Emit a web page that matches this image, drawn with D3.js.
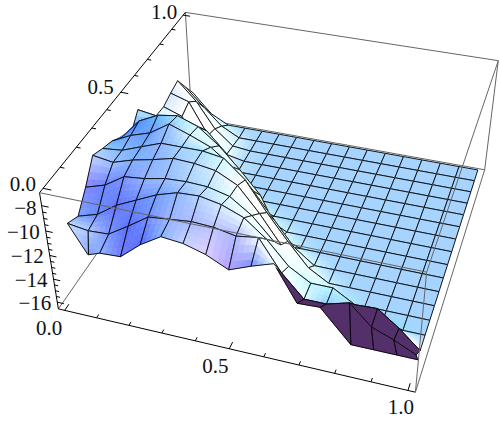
<!DOCTYPE html><html><body style="margin:0;background:#fff"><svg width="500" height="421" style="display:block"></svg>
<script src="https://cdn.jsdelivr.net/npm/d3@7"></script>
<script>
// --- data ---
const xTickLabels=["0.0","0.5","1.0"], yTickLabels=["0.0","0.5","1.0"];
const zTickValues=[-8,-10,-12,-14,-16];
const zFloor=-16.4;
// surface height above the floor, one list per row (front row first), columns left to right; unlisted columns lie on the floor
const row00=[4.75,4.75,5.08,5.17,6.5,7.5,7.33,6.83,6,6.67,7.25,4.5,4.58,2.08,2.08,2.08,2.08];
const row01=[5.67,5.42,5.5,6.5,7.58,7.75,7.92,7.83,7.5,7.75,5.33,3.58,3.58,4.08,2.5,1.83,1];
const row02=[5.17,5.67,6.75,7.5,8.25,8.75,8.83,8.5,7.83,6.5,4.67,3.67,3.67,2.67,2.75,1.5,0];
const row03=[6.5,7,8,8.17,8.5,8.58,8.5,8.08,6.92,5.17,3.33,2.08,1.83];
const row04=[8.08,7.83,8.33,8.67,9.08,9,8.75,7.92,6,3.75,2.08,.83];
const row05=[7.67,7.83,8.42,9,9,9,8.75,7.33,5,2.92,1];
const row06=[7.33,8.08,8.58,9.58,9,8.33,7.08,5.42,3.33,1.25];
const row07=[6.67,8.33,9.08,9.33,8.75,7.5,5.83,4,.67];
const row08=[6,7.08,7.5,7.92,7.5,5.83,3.33,.83];
const row09=[7.17,6.92,6.5,5.83,5,3.33,.42];
const row10=[5.67,4.33,3.33,2.08,.83];
const row11=[4.83,4,2.5,1];
const row12=[4.75,4.17,1.83,.42];
const row13=[5.08,4.58,1.83,.33];
const row14=[5.33,3.75,1.5,.17];
const row15=[3.9,2.33,.83];
const row16=[2.5,.83];
const rows=[row00,row01,row02,row03,row04,row05,row06,row07,row08,row09,row10,row11,row12,row13,row14,row15,row16];
// x position of the front row's points, where the surface edge departs from the regular grid
const frontX=[.088,.09,.125,.1875,.25,.3125,.375,.4375,.5,.5625,.625,.6875,.75,.836,.898,.96,1.015];
// how many front rows show their underside, per column
const undersideRows=[0,0,0,0,0,0,0,0,0,0,1,1,1,2,2,2,0];

const N=16;
const grid=d3.range(N+1).map(i=>i/N);
const zOf=(i,j)=>zFloor+(rows[j][i]||0);
const xOf=(i,j)=>j===0?frontX[i]:grid[i];

// --- scales and camera ---
const sx=d3.scaleLinear().domain([-.02,1.02]).range([0,1]);
const sy=d3.scaleLinear().domain([-.02,1.02]).range([0,1]);
const sz=d3.scaleLinear().domain([-16.6,-7]).range([0,1]);
const cam=[[323.00073,178.98101,-21.82729,58.36968],[51.17341,-163.77943,-130.72635,308.89522],[-.08191,.23806,-.07538,1]];
const dot4=(r,a,b,c)=>r[0]*a+r[1]*b+r[2]*c+r[3];
const proj=(a,b,c)=>{const w=dot4(cam[2],a,b,c);return [dot4(cam[0],a,b,c)/w,dot4(cam[1],a,b,c)/w];};
const depth=(a,b,c)=>dot4(cam[2],a,b,c);
const svg=d3.select("svg");
const line=d3.line();
const GRAY="#666", INK="#000";

function seg(g,p,q,col,w){g.append("line").attr("x1",p[0]).attr("y1",p[1]).attr("x2",q[0]).attr("y2",q[1]).attr("stroke",col).attr("stroke-width",w);}
const b=(X,Y,Z)=>proj(X,Y,Z);

// back box edges
const back=svg.append("g");
[[[0,0,0],[0,1,0]],[[0,1,0],[1,1,0]],[[0,1,0],[0,1,1]],[[1,1,0],[1,1,1]],[[0,1,1],[1,1,1]]].forEach(e=>seg(back,b(...e[0]),b(...e[1]),GRAY,1));

// --- lighting: ambient plus three coloured directional lights in view space ---
const eX=[.893,-.207,.40], eY=[.438,.624,-.650], eZ=[-.116,.755,.646];
const ambient=[.312,.188,.4];
const lights=[[.9,[.707,0,.707],0],[.87,[.577,.577,.577],1],[.8,[0,.707,.707],2]];
const slopeScale=.25;
const vertexColor=d3.range(N+1).map(i=>d3.range(N+1).map(j=>{
  const i0=Math.max(0,i-1),i1=Math.min(N,i+1),j0=Math.max(0,j-1),j1=Math.min(N,j+1);
  const dzx=slopeScale*(sz(zOf(i1,j))-sz(zOf(i0,j)))/(sx(xOf(i1,j))-sx(xOf(i0,j))||1);
  const dzy=slopeScale*(sz(zOf(i,j1))-sz(zOf(i,j0)))/(sy(grid[j1])-sy(grid[j0]));
  let n=[-dzx,-dzy,1];const len=Math.hypot(...n);n=n.map(v=>v/len);
  const v=[0,1,2].map(k=>n[0]*eX[k]+n[1]*eY[k]+n[2]*eZ[k]);
  const c=ambient.slice();
  lights.forEach(([s,l,k])=>{c[k]+=s*Math.max(0,v[0]*l[0]+v[1]*l[1]+v[2]*l[2]);});
  return c.map(q=>Math.min(1,q));
}));
const toCss=c=>d3.rgb(c[0]*255,c[1]*255,c[2]*255).formatHex();
const DARK=[.325,.19,.415];

// --- surface: cells painted far to near ---
const cells=[];
for(let i=0;i<N;i++)for(let j=0;j<N;j++){
  const pts=[[i,j],[i+1,j],[i+1,j+1],[i,j+1]].map(([a,c])=>[sx(xOf(a,c)),sy(grid[c]),sz(zOf(a,c))]);
  cells.push({i,j,pts,d:d3.mean(pts,p=>depth(...p))});
}
cells.sort((a,c)=>d3.descending(a.d,c.d));
const surf=svg.append("g");
const lerp=(a,c,t)=>a.map((v,k)=>v+(c[k]-v)*t);
const MESH=.9;
cells.forEach(cell=>{
  const {i,j,pts}=cell;
  const dark=j<undersideRows[i];
  const cols=[[i,j],[i+1,j],[i+1,j+1],[i,j+1]].map(([a,c])=>vertexColor[a][c]);
  const same=cols.every(c=>c.every((v,k)=>Math.abs(v-cols[0][k])<.004));
  const S=(same||dark)?1:4;
  for(let a=0;a<S;a++)for(let c=0;c<S;c++){
    const bil=(arr,s,t)=>lerp(lerp(arr[0],arr[1],s),lerp(arr[3],arr[2],s),t);
    const poly=[[a,c],[a+1,c],[a+1,c+1],[a,c+1]].map(([s,t])=>proj(...bil(pts,s/S,t/S)));
    const col=toCss(dark?DARK:bil(cols,(a+.5)/S,(c+.5)/S));
    surf.append("path").attr("d",line(poly)+"Z").attr("fill",col).attr("stroke",col).attr("stroke-width",.6);
  }
  const P=pts.map(p=>proj(...p));
  // the steep band beside the ridge carries almost no mesh in the reference
  const band=i>=9&&i<=12&&j>=2&&j<=4;
  if(!(j===1&&i>=13)&&!(band&&j>=3)) seg(surf,P[0],P[1],INK,MESH);
  if(!(band&&j>=2&&j<=3)) seg(surf,P[3],P[2],INK,MESH);
  if(!band){seg(surf,P[0],P[3],INK,MESH);seg(surf,P[1],P[2],INK,MESH);}
});

// front box edges over the surface
const front=svg.append("g");
[[[0,0,0],[1,0,0],INK],[[0,0,0],[0,0,1],INK],[[0,0,1],[0,1,1],INK],[[0,0,1],[1,0,1],GRAY],[[1,0,1],[1,1,1],GRAY],[[1,0,1],[1,0,0],GRAY],[[1,0,0],[1,1,0],GRAY]]
 .forEach(e=>seg(front,b(...e[0]),b(...e[1]),e[2],1));

// ticks
const tick=svg.append("g");
d3.range(0,11).forEach(k=>{
  const v=k/10,len=(k%5===0)?.026:.014;
  seg(tick,proj(sx(v),0,0),proj(sx(v),len,0),INK,1);
  seg(tick,proj(0,sy(v),1),proj(.9*len,sy(v),1),INK,1);
});
d3.range(-16,-7.5,.5).forEach(v=>{
  const major=v%2===0,len=major?.02:.011;
  seg(tick,proj(0,0,sz(v)),proj(len,0,sz(v)),INK,1);
});

// labels
const font={"font-family":"'Liberation Serif',serif","font-size":21,"fill":"#111"};
function label(s,x,y,anchor){const t=svg.append("text").attr("x",x).attr("y",y).attr("text-anchor",anchor).text(s);Object.entries(font).forEach(([k,v])=>t.attr(k,v));}
const xOff=[[-15.5,25],[-14,24],[-7,24]], yOff=[[-7,2.4],[-7,2],[-6,4]], zOff=[[-5,9.5],[-6,8],[-6,8],[-6,8],[-6,8]];
xTickLabels.forEach((s,k)=>{const p=proj(sx(+s),0,0);label(s,p[0]+xOff[k][0],p[1]+xOff[k][1],"middle");});
yTickLabels.forEach((s,k)=>{const p=proj(0,sy(+s),1);label(s,p[0]+yOff[k][0],p[1]+yOff[k][1],"end");});
zTickValues.forEach((v,k)=>{const p=proj(0,0,sz(v));label("\u2212"+Math.abs(v),p[0]+zOff[k][0],p[1]+zOff[k][1],"end");});
</script></body></html>
